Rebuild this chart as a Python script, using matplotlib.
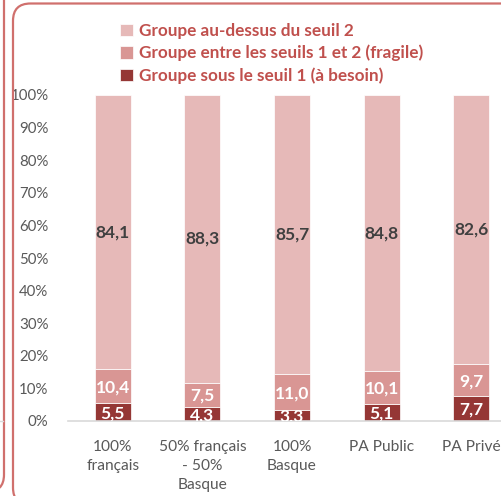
import matplotlib
matplotlib.use("Agg")
import matplotlib.pyplot as plt
from matplotlib.patches import FancyBboxPatch
import numpy as np

categories = ["100%\nfrançais", "50% français\n- 50%\nBasque", "100%\nBasque", "PA Public", "PA Privé"]
sous_seuil1 = [5.5, 4.3, 3.3, 5.1, 7.7]
entre_seuils = [10.4, 7.5, 11.0, 10.1, 9.7]
au_dessus = [84.1, 88.3, 85.7, 84.8, 82.6]
series_names = ["Groupe au-dessus du seuil 2",
                "Groupe entre les seuils 1 et 2 (fragile)",
                "Groupe sous le seuil 1 (à besoin)"]
yticks = [0, 10, 20, 30, 40, 50, 60, 70, 80, 90, 100]

plt.rcParams['font.family'] = ['Lato', 'DejaVu Sans']

W, H = 501, 496
fig = plt.figure(figsize=(W / 100, H / 100), dpi=100)

def fx(px):
    return px / W

def fy(py):
    return 1 - py / H

# frames (rounded borders)
frame_col = "#D0706D"
fig.patches.append(FancyBboxPatch((fx(13), fy(505)), fx(560) , (505 - 3.5) / H,
                                  boxstyle="round,pad=0,rounding_size=0.035",
                                  transform=fig.transFigure, fill=False,
                                  edgecolor=frame_col, linewidth=1.6, clip_on=False))
fig.patches.append(FancyBboxPatch((fx(-300), fy(492)), fx(304), (492 + 20) / H,
                                  boxstyle="round,pad=0,rounding_size=0.035",
                                  transform=fig.transFigure, fill=False,
                                  edgecolor=frame_col, linewidth=1.6, clip_on=False))
fig.add_artist(plt.Line2D([0, fx(3)], [fy(420.5), fy(420.5)], transform=fig.transFigure,
                          color="#D9D9D9", linewidth=1))

# axes: x from -0.5..4.5 maps 68..516 px, y 0..100 maps 421..95
left, right = 68, 516
top, bottom = 95, 421
ax = fig.add_axes([fx(left), fy(bottom), fx(right - left), (bottom - top) / H])
ax.set_xlim(-0.5, 4.5)
ax.set_ylim(0, 100)

x = np.arange(len(categories))
w = 0.4
c_top, c_mid, c_bot = "#E6B9B8", "#D99694", "#953735"
b1 = np.array(sous_seuil1)
b2 = np.array(entre_seuils)
b3 = np.array(au_dessus)
ax.bar(x, b1, w, color=c_bot, label=series_names[2], edgecolor="white", linewidth=0.5)
ax.bar(x, b2, w, bottom=b1, color=c_mid, label=series_names[1], edgecolor="white", linewidth=0.5)
ax.bar(x, b3, w, bottom=b1 + b2, color=c_top, label=series_names[0], edgecolor="white", linewidth=0.5)

def fmt(v):
    return f"{v:.1f}".replace(".", ",")

lab_fs = 12.5
for i in range(len(categories)):
    ax.text(x[i], b1[i] / 2 - 0.4, fmt(b1[i]), ha="center", va="center", color="white",
            fontsize=lab_fs, fontweight="bold", clip_on=True)
    ax.text(x[i], b1[i] + b2[i] / 2 - 0.3, fmt(b2[i]), ha="center", va="center", color="white",
            fontsize=lab_fs, fontweight="bold")
    ax.text(x[i], b1[i] + b2[i] + b3[i] / 2, fmt(b3[i]), ha="center", va="center", color="#404040",
            fontsize=lab_fs, fontweight="bold")

for s in ["top", "right", "left"]:
    ax.spines[s].set_visible(False)
ax.spines["bottom"].set_color("#D9D9D9")
ax.spines["bottom"].set_linewidth(1.2)
ax.set_yticks(yticks)
ax.set_yticklabels([f"{t}%" for t in yticks])
ax.set_xticks(x)
ax.set_xticklabels(categories, linespacing=1.45)
ax.tick_params(axis="x", length=0, labelsize=11.2, labelcolor="#595959", pad=14)
ax.tick_params(axis="y", length=0, labelsize=10.8, labelcolor="#595959", pad=14)

handles, labels = ax.get_legend_handles_labels()
leg = fig.legend(handles[::-1], labels[::-1], loc="upper left",
                 bbox_to_anchor=(fx(113), fy(16)), frameon=False,
                 prop={"size": 12.3, "weight": "bold"}, handlelength=0.75, handleheight=0.75,
                 handletextpad=0.4, labelspacing=0.35, borderaxespad=0)
for t in leg.get_texts():
    t.set_color("#C0504D")

fig.savefig("out.png", dpi=100)
